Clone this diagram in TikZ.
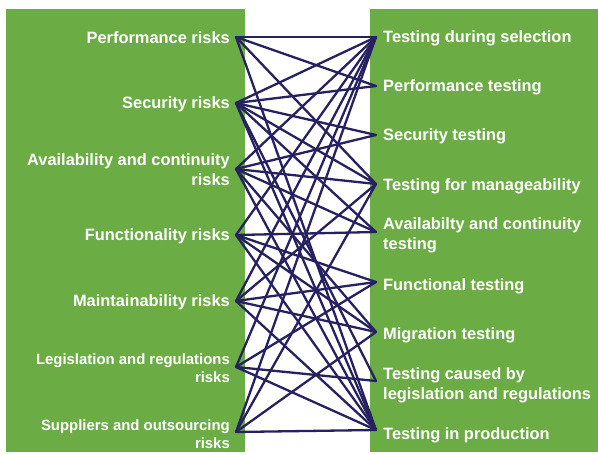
\documentclass[tikz,border=0pt]{standalone}
\usepackage{fontspec}
\setmainfont{Liberation Sans}
\begin{document}
\begin{tikzpicture}[x=1pt,y=-1pt,
  panel/.style={fill=panelgreen,draw=none},
  risk/.style={anchor=east,align=right,text=white,font=\bfseries\fontsize{16.4}{20}\selectfont,inner sep=0pt},
  risksmall/.style={risk,font=\bfseries\fontsize{14.9}{18}\selectfont},
  test/.style={anchor=west,align=left,text=white,font=\bfseries\fontsize{16.4}{20}\selectfont,inner sep=0pt},
  link/.style={draw=linkblue,line width=2.3pt,line join=round,line cap=round}]
\definecolor{panelgreen}{RGB}{108,172,68}
\definecolor{linkblue}{RGB}{38,33,96}
\useasboundingbox (0,0) rectangle (598,455);
\fill[white] (0,0) rectangle (598,455);
% two panels
\path[panel] (6,9) rectangle (245,452);
\path[panel] (370,9) rectangle (598,452);
% risk labels
\node[risk] (lP) at (230,38) {Performance risks};
\node[risk] (lS) at (230,104) {Security risks};
\node[risk] (lA) at (230,170) {Availability and continuity\\risks};
\node[risk] (lF) at (230,236) {Functionality risks};
\node[risk] (lM) at (230,302) {Maintainability risks};
\node[risksmall] (lL) at (230,368) {Legislation and regulations\\risks};
\node[risksmall] (lU) at (230,434) {Suppliers and outsourcing\\risks};
% test labels
\node[test] (rA) at (383,38) {Testing during selection};
\node[test] (rB) at (383,87) {Performance testing};
\node[test] (rC) at (383,136) {Security testing};
\node[test] (rD) at (383,186) {Testing for manageability};
\node[test] (rE) at (383,235) {Availabilty and continuity\\testing};
\node[test] (rF) at (383,286) {Functional testing};
\node[test] (rG) at (383,335) {Migration testing};
\node[test] (rH) at (383,385) {Testing caused by\\legislation and regulations};
\node[test] (rI) at (383,435) {Testing in production};
% connection points
\coordinate (P) at (236,37);
\coordinate (S) at (236,103);
\coordinate (A) at (236,169);
\coordinate (F) at (236,235);
\coordinate (M) at (236,301);
\coordinate (L) at (236,367);
\coordinate (U) at (236,432);
\coordinate (TA) at (376,37);
\coordinate (TB) at (376,86);
\coordinate (TC) at (376,135);
\coordinate (TD) at (376,184);
\coordinate (TE) at (376,232);
\coordinate (TF) at (376,282);
\coordinate (TG) at (376,332);
\coordinate (TH) at (376,381);
\coordinate (TI) at (376,430);
% links between risks and tests
\foreach \r/\t in {P/TA,P/TB,P/TD,P/TI,
                   S/TA,S/TB,S/TC,S/TD,S/TE,S/TH,S/TI,
                   A/TA,A/TC,A/TD,A/TE,A/TG,A/TI,
                   F/TA,F/TE,F/TF,F/TG,F/TI,
                   M/TA,M/TD,M/TF,M/TG,M/TI,
                   L/TA,L/TF,L/TH,L/TI,
                   U/TA,U/TD,U/TG,U/TI}
  \draw[link] (\r) -- (\t);
\end{tikzpicture}
\end{document}
